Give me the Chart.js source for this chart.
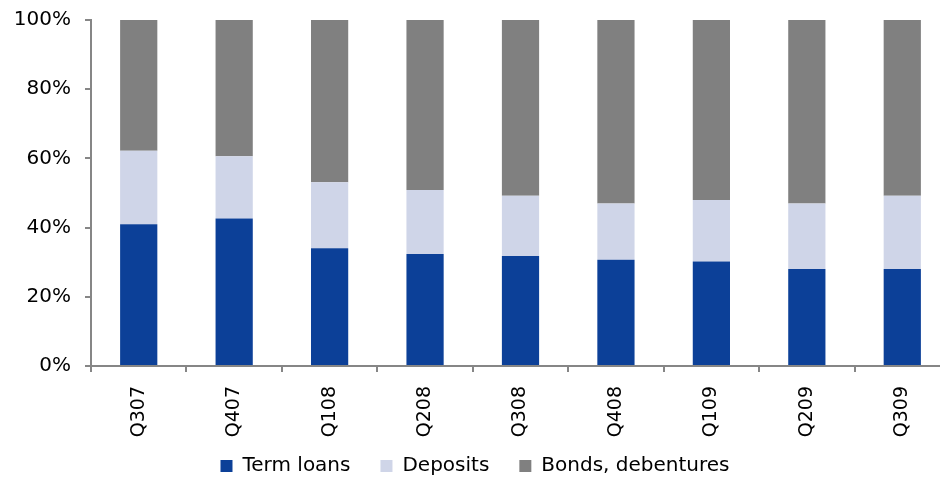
<!DOCTYPE html>
<html>
<head>
<meta charset="utf-8">
<script src="https://cdn.jsdelivr.net/npm/chart.js@4/dist/chart.umd.min.js"></script>
<style>
  html, body { margin: 0; padding: 0; background: #fff; overflow: hidden; }
  #wrap { width: 940px; height: 478px; overflow: hidden; }
</style>
</head>
<body>
<div id="wrap"><canvas id="chart" width="950" height="486"></canvas></div>
<script>
// Trimestres et parts (%) de chaque source de financement
const quarters = ['Q307', 'Q407', 'Q108', 'Q208', 'Q308', 'Q408', 'Q109', 'Q209', 'Q309'];
const termLoans = [41.0, 42.6, 34.0, 32.4, 31.8, 30.7, 30.2, 28.0, 28.0];
const deposits = [21.2, 18.0, 19.1, 18.5, 17.4, 16.3, 17.8, 19.0, 21.2];
const bonds = [37.8, 39.4, 46.9, 49.1, 50.8, 53.0, 52.0, 53.0, 50.8];
const yTicks = [0, 20, 40, 60, 80, 100];

const axisColor = '#868686';
const fontFamily = 'Verdana, "DejaVu Sans", sans-serif';

function makeDataset(label, data, color) {
    return {
        label: label,
        data: data,
        backgroundColor: color,
        borderWidth: 0,
        barPercentage: 0.39,
        categoryPercentage: 1.0
    };
}

const ctx = document.getElementById('chart').getContext('2d');
new Chart(ctx, {
    type: 'bar',
    data: {
        labels: quarters,
        datasets: [
            makeDataset('Term loans', termLoans, '#0c4098'),
            makeDataset('Deposits', deposits, '#cfd5e8'),
            makeDataset('Bonds, debentures', bonds, '#808080')
        ]
    },
    options: {
        responsive: false,
        animation: false,
        layout: { padding: { top: 20, left: 0, right: 0, bottom: 0 } },
        plugins: {
            tooltip: { enabled: false },
            legend: {
                position: 'bottom',
                labels: {
                    font: { family: fontFamily, size: 20 },
                    color: '#000',
                    boxWidth: 12,
                    boxHeight: 12,
                    padding: 30
                }
            }
        },
        scales: {
            x: {
                stacked: true,
                afterFit: scale => {
                    scale.height = 60;
                    // les étiquettes verticales débordent sur la zone de légende : pas de découpe
                    scale._computeLabelArea = () => undefined;
                },
                grid: {
                    offset: true,
                    drawOnChartArea: false,
                    drawTicks: true,
                    tickLength: 6,
                    color: axisColor,
                    lineWidth: 2
                },
                border: { color: axisColor, width: 2 },
                ticks: {
                    minRotation: 90,
                    maxRotation: 90,
                    padding: 14,
                    color: '#000',
                    font: { family: fontFamily, size: 19 }
                }
            },
            y: {
                stacked: true,
                min: 0,
                max: 100,
                afterFit: scale => {
                    scale.width = 91;
                    scale.paddingTop = 0;
                    scale.paddingBottom = 0;
                },
                afterBuildTicks: scale => {
                    scale.ticks = yTicks.map(v => ({ value: v }));
                },
                grid: {
                    drawOnChartArea: false,
                    drawTicks: true,
                    tickLength: 6,
                    color: axisColor,
                    lineWidth: 2
                },
                border: { color: axisColor, width: 2 },
                ticks: {
                    padding: 14,
                    color: '#000',
                    font: { family: fontFamily, size: 20 },
                    callback: value => value + '%'
                }
            }
        }
    }
});
</script>
</body>
</html>
